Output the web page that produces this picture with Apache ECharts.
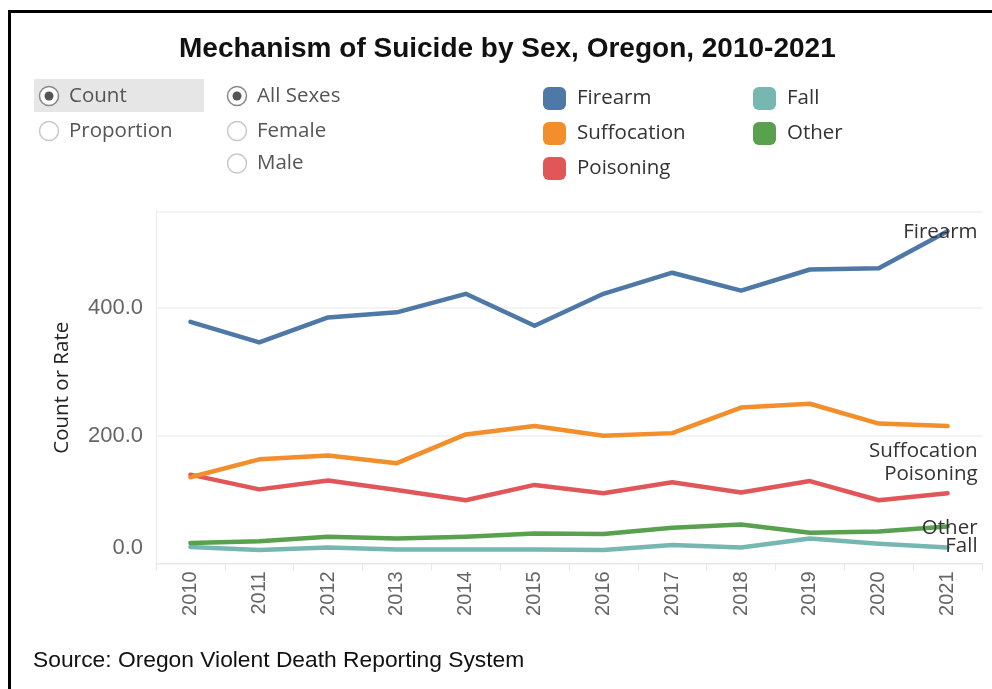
<!DOCTYPE html>
<html>
<head>
<meta charset="utf-8">
<script src="https://cdn.jsdelivr.net/npm/echarts@6/dist/echarts.min.js"></script>
<style>
html,body{margin:0;padding:0;background:#fff;}
#chart{width:992px;height:689px;}
</style>
</head>
<body>
<div id="chart"></div>
<script>
const years = ['2010','2011','2012','2013','2014','2015','2016','2017','2018','2019','2020','2021'];
const firearm     = [378, 346, 385, 393, 422, 372, 422, 455, 427, 460, 462, 520];
const suffocation = [135, 163, 169, 157, 202, 215, 200, 204, 244, 250, 219, 215];
const poisoning   = [139, 116, 130, 115,  99, 123, 110, 127, 111, 129,  99, 110];
const other       = [ 32,  35,  42,  39,  42,  47,  46,  56,  61,  48,  50,  58];
const fall        = [ 26,  21,  25,  22,  22,  22,  21,  29,  25,  39,  31,  25];
const yTicks = [0, 200, 400];

const colors = {Firearm:'#4e79a7', Suffocation:'#f28e2b', Poisoning:'#e15759', Fall:'#76b7b2', Other:'#59a14f'};
const labelOffsets = {Firearm:[31,2], Suffocation:[31,26], Poisoning:[31,-18], Other:[31,3], Fall:[31,0]};

function mkSeries(name, vals){
  const last = vals.length - 1;
  return {
    name: name,
    type: 'line',
    symbol: 'circle',
    symbolSize: 2,
    showSymbol: true,
    color: colors[name],
    lineStyle: {width: 4.5, cap: 'round', join: 'round'},
    label: {show: false},
    emphasis: {disabled: true},
    data: vals.map((v, i) => i === last ? {
      value: v,
      label: {show: true, formatter: name, position: labelOffsets[name], align: 'right', verticalAlign: 'middle',
              fontSize: 20.5, color: '#333', fontFamily: 'Open Sans'}
    } : v)
  };
}

const legendText = {fontSize: 20.5, color: '#333', fontFamily: 'Open Sans', padding: [0,0,0,6]};

function radio(cx, cy, text, selected){
  const els = [
    {type:'circle', shape:{cx:cx, cy:cy, r:9.5}, style:{fill:'#fff', stroke: selected ? '#888' : '#c8c8c8', lineWidth:1.5}},
    {type:'text', style:{x:cx+20, y:cy, text:text, fill:'#555', fontSize:20.5, fontFamily:'Open Sans', verticalAlign:'middle', align:'left'}}
  ];
  if (selected) els.push({type:'circle', shape:{cx:cx, cy:cy, r:4.5}, style:{fill:'#555'}});
  return els;
}

const chart = echarts.init(document.getElementById('chart'));
chart.setOption({
  animation: false,
  backgroundColor: '#fff',
  title: {
    text: 'Mechanism of Suicide by Sex, Oregon, 2010-2021',
    left: 174, top: 30,
    padding: [5,5,5,5],
    textStyle: {fontSize: 28, fontWeight: 'bold', color: '#111', fontFamily: 'Liberation Sans'}
  },
  legend: [
    {data:['Firearm','Suffocation','Poisoning'], orient:'vertical', left:543, top:87, padding:0, itemWidth:23, itemHeight:23, itemGap:12,
     icon:'roundRect', selectedMode:false, textStyle: legendText},
    {data:['Fall','Other'], orient:'vertical', left:753, top:87, padding:0, itemWidth:23, itemHeight:23, itemGap:12,
     icon:'roundRect', selectedMode:false, textStyle: legendText}
  ],
  grid: {left: 156, right: 10, top: 212, bottom: 125.5, containLabel: false},
  xAxis: {
    type: 'category',
    data: years,
    boundaryGap: true,
    axisLine: {lineStyle: {color: '#e6e6e6', width: 1}},
    axisTick: {show: true, alignWithLabel: false, length: 7, lineStyle: {color: '#e6e6e6'}},
    axisLabel: {rotate: 90, fontSize: 20, color: '#666', margin: 8, fontFamily: 'Liberation Sans'},
    splitLine: {show: false}
  },
  yAxis: {
    type: 'value',
    min: 0, max: 550, interval: 200,
    name: 'Count or Rate',
    nameLocation: 'middle',
    nameRotate: 90,
    nameGap: 83,
    nameTextStyle: {fontSize: 20.5, color: '#222', fontFamily: 'Open Sans'},
    axisLine: {show: true, lineStyle: {color: '#ececec'}},
    axisTick: {show: false},
    splitLine: {show: true, lineStyle: {color: '#efefef', width: 1.5}},
    axisLabel: {
      showMaxLabel: false,
      margin: 13,
      fontSize: 22, color: '#666', fontFamily: 'Liberation Sans',
      formatter: function(v){
        if (yTicks.indexOf(v) < 0) return '';
        return v === 0 ? '{z|0.0}' : v.toFixed(1);
      },
      rich: {z: {fontSize: 22, color: '#666', fontFamily: 'Liberation Sans', padding: [0,0,32,0]}}
    }
  },
  graphic: [
    {type:'rect', shape:{x:8, y:10, width:3, height:679}, style:{fill:'#000'}},
    {type:'rect', shape:{x:8, y:10, width:984, height:3}, style:{fill:'#000'}},
    {type:'rect', shape:{x:34, y:79, width:170, height:33}, style:{fill:'#e6e6e6'}},
    ...radio(49, 96, 'Count', true),
    ...radio(49, 131, 'Proportion', false),
    ...radio(237, 96, 'All Sexes', true),
    ...radio(237, 131, 'Female', false),
    ...radio(237, 163.5, 'Male', false),
    {type:'text', style:{x:33, y:661, text:'Source: Oregon Violent Death Reporting System', fill:'#111', fontSize:22.8, fontFamily:'Liberation Sans', verticalAlign:'middle'}}
  ],
  series: [
    mkSeries('Fall', fall),
    mkSeries('Other', other),
    mkSeries('Poisoning', poisoning),
    mkSeries('Suffocation', suffocation),
    mkSeries('Firearm', firearm)
  ]
});
</script>
</body>
</html>
